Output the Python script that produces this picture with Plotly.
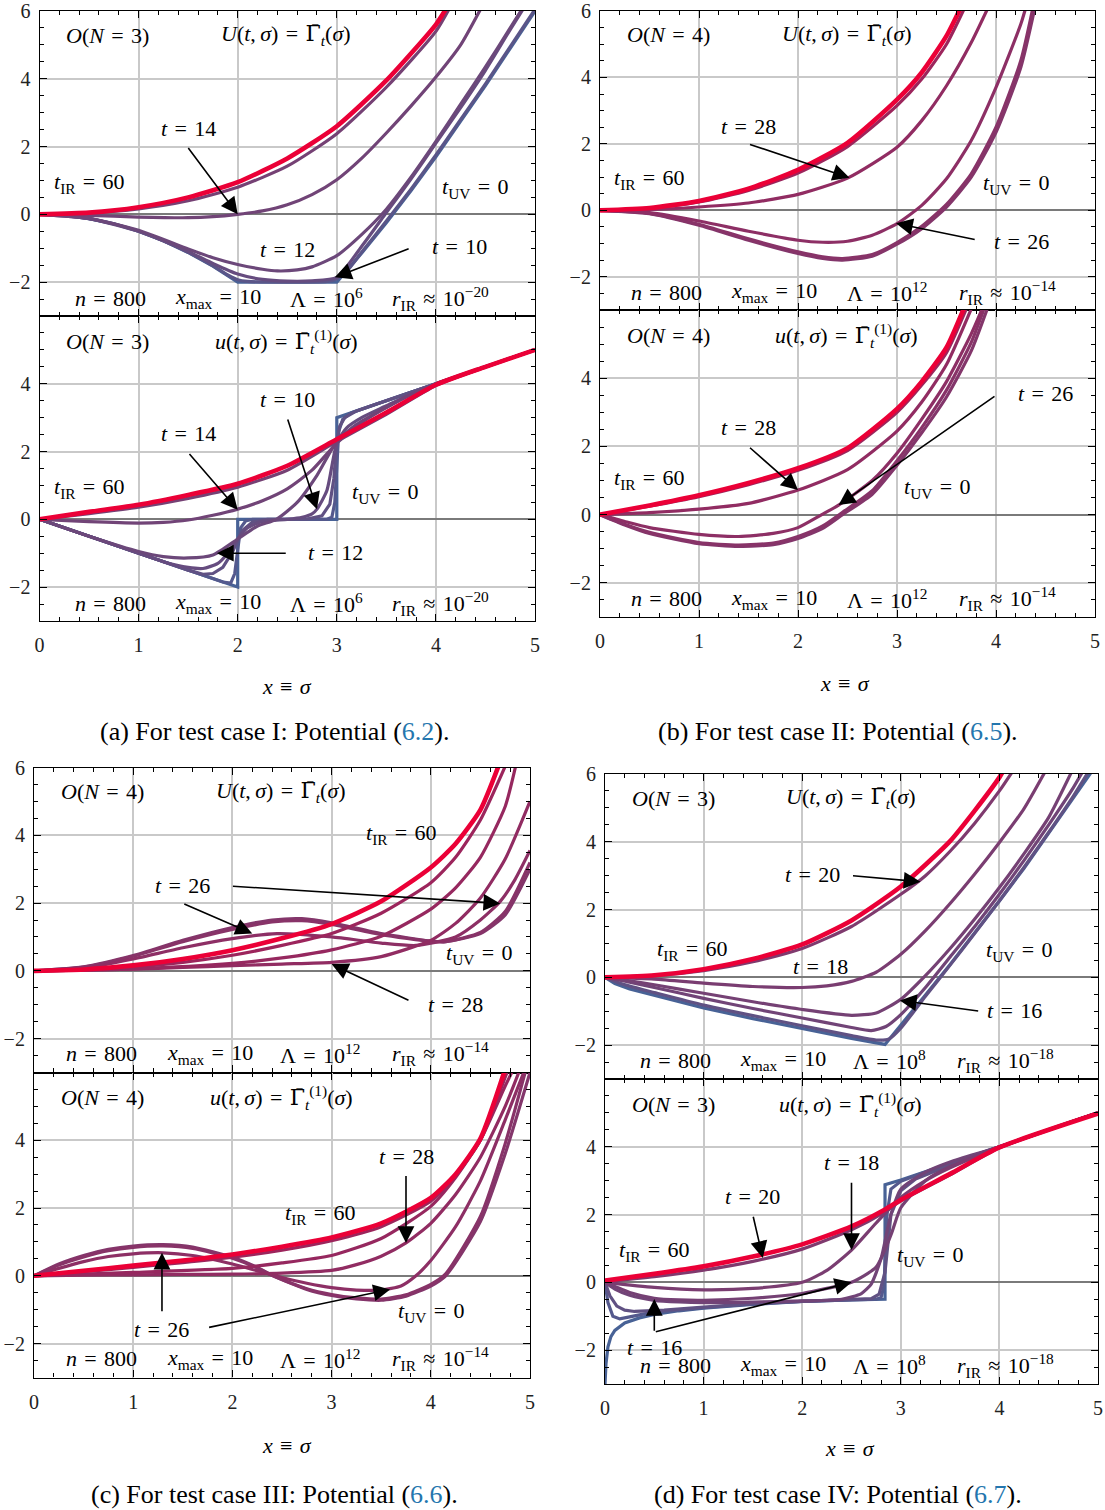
import plotly.graph_objects as go

# ---------------- DATA ----------------
# Panel (a) : test case I, O(N=3)  -- top: U(t,sigma), bottom: u(t,sigma)
A_U_T0_X = [0, 0.25, 0.5, 0.75, 1, 1.25, 1.5, 1.75, 2, 2.5, 3, 3.25, 3.5, 3.75, 4, 4.25, 4.5, 4.75, 5]
A_U_T0_Y = [0, -0.03, -0.125, -0.28, -0.5, -0.78, -1.125, -1.53, -2, -2, -2, -1.15, -0.25, 0.7, 1.7, 2.75, 3.8, 4.9, 6.0]
A_U_T6_X = [0, 0.25, 0.5, 0.75, 1, 1.25, 1.5, 1.75, 1.9, 2.0, 2.1, 2.5, 2.9, 3.0, 3.1, 3.25, 3.5, 3.75, 4, 4.25, 4.5, 4.75, 5]
A_U_T6_Y = [0, -0.03, -0.125, -0.28, -0.5, -0.78, -1.12, -1.52, -1.79, -1.93, -1.98, -2.0, -1.98, -1.9, -1.68, -1.12, -0.2, 0.75, 1.75, 2.8, 3.85, 4.95, 6.05]
A_U_T10_X = [0, 0.5, 1, 1.5, 1.75, 2, 2.25, 2.5, 2.75, 3, 3.25, 3.5, 3.75, 4, 4.25, 4.5, 4.75, 4.9]
A_U_T10_Y = [0, -0.125, -0.5, -1.1, -1.45, -1.76, -1.92, -1.97, -1.96, -1.86, -0.95, 0.05, 1.05, 2.1, 3.15, 4.25, 5.45, 6.15]
A_U_T12_X = [0, 0.5, 1, 1.5, 1.75, 2, 2.25, 2.4, 2.6, 2.75, 3, 3.25, 3.5, 3.75, 4, 4.25, 4.5, 4.75, 4.9]
A_U_T12_Y = [0, -0.12, -0.47, -1.02, -1.28, -1.48, -1.62, -1.67, -1.64, -1.55, -1.22, -0.6, 0.15, 1.1, 2.15, 3.25, 4.35, 5.5, 6.2]
A_U_T14_X = [0, 0.5, 1, 1.5, 1.75, 2, 2.25, 2.5, 2.75, 3, 3.25, 3.5, 3.75, 4, 4.25, 4.45]
A_U_T14_Y = [0, -0.03, -0.08, -0.1, -0.07, 0.0, 0.1, 0.28, 0.58, 1.02, 1.65, 2.4, 3.2, 4.05, 5.0, 6.05]
A_U_T16_X = [0, 0.5, 1, 1.5, 2, 2.5, 3, 3.5, 4, 4.15]
A_U_T16_Y = [0, 0.04, 0.16, 0.4, 0.8, 1.42, 2.38, 3.75, 5.4, 6.15]
A_U_T60_X = [0, 0.5, 1, 1.5, 2, 2.5, 3, 3.5, 4, 4.12]
A_U_T60_Y = [0, 0.05, 0.21, 0.5, 0.95, 1.65, 2.6, 3.95, 5.6, 6.15]

A_u_T0_X = [0, 2, 2, 3, 3, 5]
A_u_T0_Y = [0, -2, 0, 0, 3, 5]
A_u_T4_X = [0, 1, 1.85, 1.93, 1.97, 2.0, 2.03, 2.08, 2.15, 2.9, 2.95, 2.98, 3.0, 3.02, 3.06, 3.15, 3.3, 3.5, 4, 5]
A_u_T4_Y = [0, -1, -1.85, -1.88, -1.6, -0.9, -0.25, -0.05, 0, 0, 0.06, 0.5, 1.6, 2.6, 2.95, 3.15, 3.3, 3.5, 4, 5]
A_u_T8_X = [0, 1, 1.5, 1.65, 1.75, 1.85, 1.95, 2.0, 2.05, 2.15, 2.3, 2.7, 2.85, 2.93, 2.97, 3.0, 3.03, 3.08, 3.2, 3.4, 3.7, 4, 5]
A_u_T8_Y = [0, -1, -1.5, -1.62, -1.6, -1.42, -0.95, -0.62, -0.32, -0.08, 0, 0.01, 0.1, 0.45, 1.2, 2.3, 2.75, 3.0, 3.2, 3.4, 3.7, 4.0, 5]
A_u_T10_X = [0, 0.5, 1, 1.25, 1.5, 1.65, 1.8, 1.9, 2.0, 2.1, 2.25, 2.5, 2.65, 2.75, 2.8, 2.9, 3.0, 3.1, 3.25, 3.5, 3.75, 4, 5]
A_u_T10_Y = [0, -0.5, -1.0, -1.25, -1.42, -1.45, -1.3, -1.0, -0.58, -0.25, -0.06, 0.0, 0.06, 0.16, 0.3, 0.85, 2.25, 2.7, 3.0, 3.35, 3.7, 4.0, 5]
A_u_T12_X = [0, 0.5, 1, 1.25, 1.5, 1.75, 2, 2.2, 2.39, 2.6, 2.8, 3, 3.2, 3.5, 3.75, 4, 5]
A_u_T12_Y = [0, -0.5, -0.95, -1.1, -1.14, -1.05, -0.58, -0.2, 0.0, 0.5, 1.3, 2.3, 2.8, 3.3, 3.68, 3.98, 5]
A_u_T14_X = [0, 0.5, 1, 1.25, 1.5, 1.75, 2, 2.25, 2.5, 2.75, 3, 3.25, 3.5, 3.75, 4, 5]
A_u_T14_Y = [0, -0.07, -0.11, -0.09, -0.02, 0.12, 0.3, 0.55, 0.9, 1.45, 2.25, 2.85, 3.3, 3.68, 3.98, 5]
A_u_T16_X = [0, 0.5, 1, 1.5, 2, 2.5, 3, 3.5, 4, 4.5, 5]
A_u_T16_Y = [0, 0.17, 0.36, 0.62, 0.95, 1.45, 2.3, 3.1, 3.95, 4.5, 5]
A_u_T60_X = [0, 0.5, 1, 1.5, 2, 2.5, 3, 3.5, 4, 4.5, 5]
A_u_T60_Y = [0, 0.22, 0.43, 0.72, 1.05, 1.58, 2.36, 3.15, 3.97, 4.5, 5.0]

# Panel (b) : test case II, O(N=4)   (the early-time bundle is drawn by its visible members)
B_U_T22_X = [0, 0.5, 1, 1.5, 2, 2.25, 2.45, 2.75, 3, 3.25, 3.5, 3.75, 4, 4.25, 4.4]
B_U_T22_Y = [0, -0.1, -0.45, -0.9, -1.3, -1.45, -1.5, -1.38, -1.02, -0.55, 0.1, 1.0, 2.35, 4.3, 6.2]
B_U_T24_X = [0, 0.5, 1, 1.5, 2, 2.25, 2.45, 2.75, 3, 3.25, 3.5, 3.75, 4, 4.25, 4.38]
B_U_T24_Y = [0, -0.09, -0.42, -0.86, -1.25, -1.4, -1.45, -1.33, -0.97, -0.48, 0.18, 1.1, 2.5, 4.5, 6.2]
B_U_T26_X = [0, 0.5, 1, 1.5, 2, 2.25, 2.5, 2.75, 3, 3.25, 3.5, 3.75, 4, 4.25, 4.32]
B_U_T26_Y = [0, -0.07, -0.32, -0.63, -0.9, -0.96, -0.93, -0.75, -0.4, 0.15, 0.95, 2.1, 3.7, 5.6, 6.3]
B_U_T28_X = [0, 0.5, 1, 1.5, 2, 2.5, 3, 3.25, 3.5, 3.75, 3.92]
B_U_T28_Y = [0, 0.02, 0.1, 0.22, 0.48, 0.97, 1.9, 2.7, 3.75, 5.05, 6.1]
B_U_T32_X = [0, 0.5, 1, 1.5, 2, 2.5, 3, 3.25, 3.5, 3.7]
B_U_T32_Y = [0, 0.06, 0.25, 0.6, 1.12, 1.92, 3.15, 3.95, 5.0, 6.2]
B_U_T60_X = [0, 0.5, 1, 1.5, 2, 2.5, 3, 3.25, 3.5, 3.66]
B_U_T60_Y = [0, 0.07, 0.28, 0.65, 1.22, 2.03, 3.33, 4.15, 5.25, 6.2]

B_u_T22_X = [0, 0.25, 0.5, 1, 1.4, 1.75, 2, 2.25, 2.45, 2.75, 3, 3.25, 3.5, 3.75, 3.92]
B_u_T22_Y = [0, -0.3, -0.55, -0.85, -0.93, -0.88, -0.7, -0.4, 0.0, 0.6, 1.45, 2.4, 3.45, 4.8, 6.1]
B_u_T24_X = [0, 0.25, 0.5, 1, 1.4, 1.75, 2, 2.25, 2.45, 2.75, 3, 3.25, 3.5, 3.75, 3.9]
B_u_T24_Y = [0, -0.28, -0.52, -0.82, -0.89, -0.83, -0.64, -0.33, 0.07, 0.7, 1.58, 2.55, 3.65, 5.05, 6.2]
B_u_T26_X = [0, 0.25, 0.5, 1, 1.4, 1.75, 2, 2.24, 2.41, 2.75, 3, 3.25, 3.5, 3.75, 3.87]
B_u_T26_Y = [0, -0.2, -0.38, -0.58, -0.64, -0.55, -0.38, 0.0, 0.28, 1.0, 1.8, 2.8, 3.9, 5.3, 6.1]
B_u_T28_X = [0, 0.5, 1, 1.5, 2, 2.5, 3, 3.25, 3.5, 3.76]
B_u_T28_Y = [0, 0.06, 0.16, 0.33, 0.72, 1.32, 2.45, 3.3, 4.4, 6.1]
B_u_T32_X = [0, 0.5, 1, 1.5, 2, 2.5, 3, 3.25, 3.5, 3.71]
B_u_T32_Y = [0, 0.25, 0.53, 0.88, 1.3, 1.88, 3.0, 3.8, 4.75, 6.1]
B_u_T60_X = [0, 0.5, 1, 1.5, 2, 2.5, 3, 3.25, 3.5, 3.69]
B_u_T60_Y = [0, 0.27, 0.57, 0.93, 1.36, 1.95, 3.1, 3.9, 4.9, 6.15]

# Panel (c) : test case III, O(N=4)
C_U_T22_X = [0, 0.5, 1, 1.5, 2, 2.4, 2.7, 3, 3.5, 4, 4.15, 4.5, 4.75, 5]
C_U_T22_Y = [0, 0.12, 0.45, 0.9, 1.28, 1.5, 1.54, 1.42, 1.1, 0.88, 0.86, 1.1, 1.65, 3.0]
C_U_T24_X = [0, 0.5, 1, 1.5, 2, 2.4, 2.7, 3, 3.5, 4, 4.15, 4.5, 4.75, 5]
C_U_T24_Y = [0, 0.11, 0.43, 0.86, 1.22, 1.44, 1.48, 1.37, 1.07, 0.87, 0.86, 1.13, 1.75, 3.2]
C_U_T26_X = [0, 0.5, 1, 1.5, 2, 2.45, 3, 3.5, 3.85, 4.25, 4.5, 4.7, 4.85, 5]
C_U_T26_Y = [0, 0.08, 0.35, 0.68, 0.95, 1.1, 1.0, 0.82, 0.75, 1.0, 1.5, 2.05, 2.7, 3.55]
C_U_T28_X = [0, 0.5, 1, 1.5, 2, 2.5, 3, 3.5, 4, 4.25, 4.5, 4.75, 5]
C_U_T28_Y = [0, 0.02, 0.05, 0.1, 0.15, 0.2, 0.25, 0.42, 0.9, 1.4, 2.15, 3.3, 5.0]
C_U_T30_X = [0, 1, 2, 2.5, 3, 3.5, 4, 4.25, 4.5, 4.75, 4.86]
C_U_T30_Y = [0, 0.06, 0.22, 0.38, 0.62, 1.02, 1.82, 2.45, 3.35, 4.85, 6.1]
C_U_T32_X = [0, 0.5, 1, 1.5, 2, 2.5, 3, 3.5, 4, 4.25, 4.5, 4.76]
C_U_T32_Y = [0, 0.03, 0.11, 0.25, 0.46, 0.75, 1.1, 1.7, 2.6, 3.35, 4.45, 6.1]
C_U_T60_X = [0, 0.5, 1, 1.5, 2, 2.5, 3, 3.5, 4, 4.25, 4.5, 4.69]
C_U_T60_Y = [0, 0.04, 0.16, 0.35, 0.61, 0.96, 1.38, 2.05, 3.05, 3.75, 4.75, 6.1]

C_u_T22_X = [0, 0.25, 0.5, 0.75, 1, 1.3, 1.6, 2, 2.25, 2.41, 2.75, 3, 3.25, 3.5, 3.75, 4, 4.15, 4.5, 4.75, 5]
C_u_T22_Y = [0, 0.35, 0.6, 0.78, 0.88, 0.92, 0.85, 0.55, 0.25, 0.0, -0.4, -0.58, -0.68, -0.72, -0.6, -0.3, 0.0, 1.6, 3.6, 6.0]
C_u_T24_X = [0, 0.25, 0.5, 0.75, 1, 1.3, 1.6, 2, 2.25, 2.41, 2.75, 3, 3.25, 3.5, 3.75, 4, 4.15, 4.5, 4.75, 4.97]
C_u_T24_Y = [0, 0.32, 0.56, 0.74, 0.84, 0.88, 0.81, 0.52, 0.23, 0.0, -0.38, -0.55, -0.65, -0.69, -0.56, -0.25, 0.06, 1.75, 3.9, 6.2]
C_u_T26_X = [0, 0.25, 0.5, 0.75, 1, 1.3, 1.6, 2, 2.25, 2.5, 2.75, 3, 3.25, 3.5, 3.7, 3.85, 4, 4.25, 4.5, 4.75, 4.95]
C_u_T26_Y = [0, 0.22, 0.42, 0.57, 0.65, 0.68, 0.6, 0.35, 0.15, -0.05, -0.22, -0.35, -0.42, -0.42, -0.3, 0.0, 0.45, 1.45, 2.8, 4.6, 6.1]
C_u_T28_X = [0, 0.5, 1, 1.5, 2, 2.5, 3, 3.25, 3.5, 3.75, 4, 4.25, 4.5, 4.75, 4.9]
C_u_T28_Y = [0, 0.02, 0.03, 0.04, 0.05, 0.08, 0.16, 0.33, 0.58, 0.97, 1.55, 2.4, 3.5, 5.0, 6.1]
C_u_T30_X = [0, 1, 2, 2.5, 3, 3.5, 4, 4.25, 4.5, 4.75, 4.85]
C_u_T30_Y = [0, 0.1, 0.22, 0.38, 0.6, 1.1, 2.05, 2.9, 4.0, 5.6, 6.2]
C_u_T32_X = [0, 0.5, 1, 1.5, 2, 2.5, 3, 3.5, 4, 4.25, 4.5, 4.78]
C_u_T32_Y = [0, 0.12, 0.25, 0.39, 0.55, 0.76, 1.04, 1.45, 2.2, 2.95, 4.0, 6.1]
C_u_T60_X = [0, 0.5, 1, 1.5, 2, 2.5, 3, 3.5, 4, 4.25, 4.5, 4.75]
C_u_T60_Y = [0, 0.15, 0.3, 0.45, 0.63, 0.86, 1.13, 1.55, 2.3, 3.0, 4.05, 6.1]

# Panel (d) : test case IV, O(N=3)
D_U_T0_X = [0, 0.05, 0.1, 0.25, 0.5, 1, 1.5, 2, 2.5, 2.84, 3, 3.25, 3.5, 3.75, 4, 4.25, 4.5, 4.75, 4.92, 5]
D_U_T0_Y = [0, -0.1, -0.18, -0.34, -0.53, -0.9, -1.22, -1.52, -1.8, -1.98, -1.42, -0.52, 0.38, 1.3, 2.25, 3.22, 4.25, 5.3, 6.0, 6.4]
D_U_T8_X = [0, 0.1, 0.25, 0.5, 1, 1.5, 2, 2.5, 2.75, 2.88, 3, 3.25, 3.5, 3.75, 4, 4.25, 4.5, 4.75, 4.91]
D_U_T8_Y = [0, -0.12, -0.26, -0.45, -0.82, -1.13, -1.43, -1.72, -1.85, -1.82, -1.5, -0.56, 0.36, 1.3, 2.26, 3.25, 4.28, 5.35, 6.1]
D_U_T14_X = [0, 0.25, 0.5, 1, 1.5, 2, 2.5, 2.7, 2.85, 3, 3.25, 3.5, 3.75, 4, 4.25, 4.5, 4.75, 4.85]
D_U_T14_Y = [0, -0.14, -0.3, -0.62, -0.92, -1.2, -1.48, -1.57, -1.45, -1.1, -0.3, 0.6, 1.5, 2.45, 3.45, 4.5, 5.6, 6.1]
D_U_T16_X = [0, 0.25, 0.5, 1, 1.5, 2, 2.5, 2.75, 3, 3.25, 3.5, 3.75, 4, 4.25, 4.5, 4.73]
D_U_T16_Y = [0, -0.1, -0.22, -0.47, -0.72, -0.95, -1.12, -1.05, -0.65, 0.05, 0.85, 1.72, 2.65, 3.65, 4.72, 6.05]
D_U_T18_X = [0, 0.5, 1, 1.5, 2, 2.25, 2.5, 2.75, 3, 3.25, 3.5, 3.75, 4, 4.25, 4.46]
D_U_T18_Y = [0, -0.05, -0.17, -0.27, -0.3, -0.25, -0.12, 0.15, 0.68, 1.38, 2.18, 3.05, 3.98, 4.98, 6.05]
D_U_T20_X = [0, 0.5, 1, 1.5, 2, 2.5, 3, 3.25, 3.5, 3.75, 4, 4.15]
D_U_T20_Y = [0, 0.05, 0.2, 0.46, 0.85, 1.5, 2.45, 3.0, 3.72, 4.55, 5.5, 6.15]
D_U_T60_X = [0, 0.5, 1, 1.5, 2, 2.5, 3, 3.5, 3.75, 4, 4.05]
D_U_T60_Y = [0, 0.06, 0.24, 0.54, 0.97, 1.68, 2.68, 4.02, 4.92, 5.9, 6.15]

D_u_T0_X = [0, 0.01, 0.03, 0.06, 0.1, 0.2, 0.35, 0.5, 0.75, 1, 1.5, 2, 2.5, 2.84, 2.84, 3, 4, 5]
D_u_T0_Y = [-3.0, -2.4, -1.9, -1.6, -1.42, -1.2, -1.05, -0.95, -0.84, -0.76, -0.65, -0.56, -0.52, -0.5, 2.88, 3.02, 4.0, 5.0]
D_u_T4_X = [0, 0.03, 0.08, 0.15, 0.25, 0.4, 0.6, 1, 1.5, 2, 2.5, 2.75, 2.8, 2.83, 2.86, 2.9, 3.0, 3.2, 3.5, 4, 5]
D_u_T4_Y = [0, -0.6, -1.0, -1.08, -1.02, -0.93, -0.86, -0.75, -0.64, -0.56, -0.52, -0.5, -0.45, -0.1, 2.0, 2.75, 2.98, 3.2, 3.5, 4.0, 5]
D_u_T8_X = [0, 0.05, 0.12, 0.2, 0.3, 0.45, 0.6, 1, 1.5, 2, 2.5, 2.7, 2.78, 2.84, 2.9, 3.0, 3.15, 3.4, 3.7, 4, 5]
D_u_T8_Y = [0, -0.4, -0.7, -0.82, -0.86, -0.85, -0.82, -0.73, -0.63, -0.56, -0.51, -0.48, -0.35, 0.3, 2.0, 2.7, 3.05, 3.35, 3.7, 4.0, 5]
D_u_T14_X = [0, 0.1, 0.25, 0.5, 0.75, 1, 1.5, 2, 2.4, 2.6, 2.7, 2.8, 2.9, 3.0, 3.25, 3.5, 4, 5]
D_u_T14_Y = [0, -0.2, -0.38, -0.53, -0.58, -0.6, -0.58, -0.55, -0.5, -0.33, -0.05, 0.7, 2.0, 2.75, 3.25, 3.55, 4.0, 5]
D_u_T16_X = [0, 0.1, 0.25, 0.5, 0.75, 1, 1.5, 2, 2.25, 2.5, 2.75, 2.9, 3.0, 3.25, 3.5, 4, 5]
D_u_T16_Y = [0, -0.12, -0.3, -0.47, -0.52, -0.53, -0.47, -0.33, -0.18, 0.0, 0.45, 1.4, 2.2, 3.0, 3.42, 3.98, 5]
D_u_T18_X = [0, 0.5, 1, 1.5, 2, 2.25, 2.5, 2.75, 3, 3.25, 3.5, 4, 5]
D_u_T18_Y = [0, -0.15, -0.22, -0.18, 0.0, 0.35, 0.95, 1.75, 2.5, 3.0, 3.38, 3.98, 5]
D_u_T20_X = [0, 0.5, 1, 1.5, 2, 2.5, 2.84, 3, 3.5, 4, 5]
D_u_T20_Y = [0.02, 0.17, 0.36, 0.62, 0.98, 1.55, 2.08, 2.4, 3.17, 3.97, 5.0]
D_u_T60_X = [0, 0.5, 1, 1.5, 2, 2.5, 2.84, 3, 3.5, 4, 5]
D_u_T60_Y = [0.05, 0.25, 0.47, 0.76, 1.12, 1.65, 2.15, 2.43, 3.2, 3.98, 4.98]

# Text content
X_TICKS = [0, 1, 2, 3, 4, 5]
N_LABELS = {"a": "3", "b": "4", "c": "4", "d": "3"}
LAMBDA_EXP = {"a": "6", "b": "12", "c": "12", "d": "8"}
RIR_EXP = {"a": "−20", "b": "−14", "c": "−14", "d": "−18"}
CAPTIONS = {
    "a": ("(a) For test case I: Potential (", "6.2", ")."),
    "b": ("(b) For test case II: Potential (", "6.5", ")."),
    "c": ("(c) For test case III: Potential (", "6.6", ")."),
    "d": ("(d) For test case IV: Potential (", "6.7", ")."),
}

# ---------------- STYLE / LAYOUT ----------------
W, H = 1105, 1510
FONT = "Liberation Serif"
SP = "\u2004"  # three-per-em space around relations (TeX-like spacing)
LINK = "#2476ae"
TXT = dict(family=FONT, size=22, color="#000")

def tcol(t):
    stops = [(0, (72, 98, 150)), (12, (108, 72, 122)), (30, (150, 40, 95)), (60, (235, 0, 55))]
    for (t0, c0), (t1, c1) in zip(stops[:-1], stops[1:]):
        if t <= t1:
            f = (t - t0) / (t1 - t0)
            return "rgb(%d,%d,%d)" % tuple(round(a + f * (b - a)) for a, b in zip(c0, c1))
    return "rgb(%d,%d,%d)" % stops[-1][1]

# panel geometry in pixels: x0, x1, (top subplot y0, y1), (bottom subplot y0, y1)
GEOM = {
    "a": (39.5, 535, (11, 316), (316, 621)),
    "b": (600, 1095, (11, 310), (310, 617)),
    "c": (34, 530, (767.5, 1072.5), (1072.5, 1377.5)),
    "d": (605, 1098, (774, 1079), (1079, 1384)),
}

CURVES = {
    ("a", "U"): [(0, A_U_T0_X, A_U_T0_Y, "linear"), (6, A_U_T6_X, A_U_T6_Y, "spline"),
                 (10, A_U_T10_X, A_U_T10_Y, "spline"), (12, A_U_T12_X, A_U_T12_Y, "spline"),
                 (14, A_U_T14_X, A_U_T14_Y, "spline"), (16, A_U_T16_X, A_U_T16_Y, "spline"),
                 (60, A_U_T60_X, A_U_T60_Y, "spline")],
    ("a", "u"): [(0, A_u_T0_X, A_u_T0_Y, "linear"), (4, A_u_T4_X, A_u_T4_Y, "linear"),
                 (8, A_u_T8_X, A_u_T8_Y, "linear"), (10, A_u_T10_X, A_u_T10_Y, "spline"),
                 (12, A_u_T12_X, A_u_T12_Y, "spline"), (14, A_u_T14_X, A_u_T14_Y, "spline"),
                 (16, A_u_T16_X, A_u_T16_Y, "spline"), (60, A_u_T60_X, A_u_T60_Y, "spline")],
    ("b", "U"): [(22, B_U_T22_X, B_U_T22_Y, "spline"), (24, B_U_T24_X, B_U_T24_Y, "spline"),
                 (26, B_U_T26_X, B_U_T26_Y, "spline"), (28, B_U_T28_X, B_U_T28_Y, "spline"),
                 (32, B_U_T32_X, B_U_T32_Y, "spline"), (60, B_U_T60_X, B_U_T60_Y, "spline")],
    ("b", "u"): [(22, B_u_T22_X, B_u_T22_Y, "spline"), (24, B_u_T24_X, B_u_T24_Y, "spline"),
                 (26, B_u_T26_X, B_u_T26_Y, "spline"), (28, B_u_T28_X, B_u_T28_Y, "spline"),
                 (32, B_u_T32_X, B_u_T32_Y, "spline"), (60, B_u_T60_X, B_u_T60_Y, "spline")],
    ("c", "U"): [(22, C_U_T22_X, C_U_T22_Y, "spline"), (24, C_U_T24_X, C_U_T24_Y, "spline"),
                 (26, C_U_T26_X, C_U_T26_Y, "spline"), (28, C_U_T28_X, C_U_T28_Y, "spline"),
                 (30, C_U_T30_X, C_U_T30_Y, "spline"), (32, C_U_T32_X, C_U_T32_Y, "spline"),
                 (60, C_U_T60_X, C_U_T60_Y, "spline")],
    ("c", "u"): [(22, C_u_T22_X, C_u_T22_Y, "spline"), (24, C_u_T24_X, C_u_T24_Y, "spline"),
                 (26, C_u_T26_X, C_u_T26_Y, "spline"), (28, C_u_T28_X, C_u_T28_Y, "spline"),
                 (30, C_u_T30_X, C_u_T30_Y, "spline"), (32, C_u_T32_X, C_u_T32_Y, "spline"),
                 (60, C_u_T60_X, C_u_T60_Y, "spline")],
    ("d", "U"): [(0, D_U_T0_X, D_U_T0_Y, "linear"), (8, D_U_T8_X, D_U_T8_Y, "spline"),
                 (14, D_U_T14_X, D_U_T14_Y, "spline"), (16, D_U_T16_X, D_U_T16_Y, "spline"),
                 (18, D_U_T18_X, D_U_T18_Y, "spline"), (20, D_U_T20_X, D_U_T20_Y, "spline"),
                 (60, D_U_T60_X, D_U_T60_Y, "spline")],
    ("d", "u"): [(0, D_u_T0_X, D_u_T0_Y, "linear"), (4, D_u_T4_X, D_u_T4_Y, "linear"),
                 (8, D_u_T8_X, D_u_T8_Y, "linear"), (14, D_u_T14_X, D_u_T14_Y, "spline"),
                 (16, D_u_T16_X, D_u_T16_Y, "spline"), (18, D_u_T18_X, D_u_T18_Y, "spline"),
                 (20, D_u_T20_X, D_u_T20_Y, "spline"), (60, D_u_T60_X, D_u_T60_Y, "spline")],
}

def eq(a, b, rel="="):
    return a + SP + rel + SP + b

T = lambda v: eq("<i>t</i>", v)
TIR = eq("<i>t</i><sub>IR</sub>", "60")
TUV = eq("<i>t</i><sub>UV</sub>", "0")
GBAR = "<span style=\"font-family:'DejaVu Serif'\">\u0393\u0304</span>"
U_TITLE = eq("<i>U</i>(<i>t</i>,\u2009<i>σ</i>)", GBAR + "<sub><i>t</i></sub>(<i>σ</i>)")
u_TITLE = eq("<i>u</i>(<i>t</i>,\u2009<i>σ</i>)", GBAR + "<sub><i>t</i></sub><sup>(1)</sup>(<i>σ</i>)")

# labels: (text, x, y) ; arrows: (tail_x, tail_y, tip_x, tip_y)
LABELS = {
    ("a", "U"): [(T("14"), 1.5, 2.54), (TIR, 0.5, 0.92), (TUV, 4.39, 0.77), (T("12"), 2.5, -1.05), (T("10"), 4.24, -0.95)],
    ("a", "u"): [(T("10"), 2.5, 3.53), (T("14"), 1.5, 2.52), (TIR, 0.5, 0.92), (TUV, 3.49, 0.77), (T("12"), 2.99, -0.99)],
    ("b", "U"): [(T("28"), 1.5, 2.53), (TIR, 0.5, 0.93), (TUV, 4.2, 0.79), (T("26"), 4.26, -0.95)],
    ("b", "u"): [(T("28"), 1.5, 2.54), (TIR, 0.5, 1.04), (TUV, 3.4, 0.79), (T("26"), 4.5, 3.54)],
    ("c", "U"): [(TIR, 3.7, 4.04), (T("26"), 1.5, 2.53), (TUV, 4.49, 0.51), (T("28"), 4.25, -0.98)],
    ("c", "u"): [(T("28"), 3.75, 3.53), (TIR, 2.89, 1.81), (T("26"), 1.29, -1.58), (TUV, 4.0, -1.06)],
    ("d", "U"): [(T("20"), 2.1, 3.03), (TIR, 0.89, 0.82), (T("18"), 2.19, 0.31), (TUV, 4.2, 0.77), (T("16"), 4.15, -0.98)],
    ("d", "u"): [(T("18"), 2.5, 3.53), (T("20"), 1.5, 2.52), (TIR, 0.5, 0.92), (TUV, 3.3, 0.78), (T("16"), 0.5, -1.93)],
}
ARROWS = {
    ("a", "U"): [(1.49, 2.0, 2.0, 0.0), (3.74, -1.0, 2.98, -1.86)],
    ("a", "u"): [(2.5, 2.99, 2.8, 0.3), (1.5, 1.97, 2.0, 0.28), (2.5, -1.0, 1.79, -1.0)],
    ("b", "U"): [(1.5, 2.0, 2.52, 0.98), (3.8, -0.89, 2.99, -0.39)],
    ("b", "u"): [(1.5, 2.0, 2.0, 0.72), (4.0, 3.5, 2.41, 0.28)],
    ("c", "U"): [(1.99, 2.5, 4.7, 1.99), (1.5, 1.99, 2.2, 1.1), (3.79, -0.89, 3.0, 0.2)],
    ("c", "u"): [(3.75, 2.99, 3.75, 0.97), (1.29, -1.09, 1.29, 0.68), (1.75, -1.53, 3.59, -0.4)],
    ("d", "U"): [(2.5, 3.0, 3.2, 2.82), (3.8, -1.0, 2.99, -0.68)],
    ("d", "u"): [(2.5, 2.98, 2.5, 0.95), (1.5, 1.98, 1.6, 0.72), (0.5, -1.47, 0.5, -0.49), (0.5, -1.47, 2.5, 0.0)],
}
INFO_POS = {"a": (-2.48, [0.72, 1.8, 2.9, 4.05]), "b": (-2.46, [0.67, 1.76, 2.9, 4.12]),
            "c": (-2.45, [0.68, 1.77, 2.88, 4.1]), "d": (-2.45, [0.72, 1.81, 2.89, 4.06])}
XTITLE_POS = {"a": (287, 686), "b": (845, 684), "c": (287, 1445), "d": (850, 1448)}
CAPTION_POS = {"a": (274, 731), "b": (838, 731), "c": (274, 1494), "d": (838, 1494)}

fig = go.Figure()
layout = dict(width=W, height=H, margin=dict(l=0, r=0, t=0, b=0, autoexpand=False),
              paper_bgcolor="white", plot_bgcolor="white", showlegend=False,
              font=dict(family=FONT, size=20, color="#111"))
annotations = []

idx = 0
for p in ["a", "b", "c", "d"]:
    x0, x1, ytop, ybot = GEOM[p]
    for kind, (y0, y1) in (("U", ytop), ("u", ybot)):
        idx += 1
        xs = "x" if idx == 1 else "x%d" % idx
        ys = "y" if idx == 1 else "y%d" % idx
        xa = "xaxis" if idx == 1 else "xaxis%d" % idx
        ya = "yaxis" if idx == 1 else "yaxis%d" % idx
        common = dict(showline=True, linecolor="black", linewidth=1.2, mirror="ticks",
                      ticks="inside", ticklen=7, tickwidth=1, tickcolor="black",
                      showgrid=True, gridcolor="#c9c9c9", gridwidth=1.6, automargin=False,
                      ticklabeloverflow="allow",
                      tickfont=dict(family=FONT, size=20, color="#222"), fixedrange=True)
        layout[xa] = dict(common, domain=[x0 / W, x1 / W], anchor=ys, range=[0, 5],
                          tickmode="array", tickvals=X_TICKS, zeroline=False,
                          showticklabels=(kind == "u"), ticklabelstandoff=6,
                          minor=dict(ticks="inside", ticklen=4, tickwidth=1, tickcolor="black",
                                     tickmode="linear", tick0=0, dtick=0.2, showgrid=False))
        layout[ya] = dict(common, domain=[1 - y1 / H, 1 - y0 / H], anchor=xs,
                          range=[-3, 6] if kind == "U" else [-3, 5.999],
                          tickmode="linear", tick0=0, dtick=2, zeroline=True,
                          zerolinecolor="#7a7a7a", zerolinewidth=1.5, ticklabelstandoff=4,
                          minor=dict(ticks="inside", ticklen=4, tickwidth=1, tickcolor="black",
                                     tickmode="linear", tick0=0, dtick=0.5, showgrid=False))
        for t, X, Y, shape in CURVES[(p, kind)]:
            line = dict(color=tcol(t), width=4.6 if t == 60 else 3.2, shape=shape)
            if shape == "spline":
                line["smoothing"] = 0.6
            fig.add_trace(go.Scatter(x=X, y=Y, mode="lines", line=line, xaxis=xs, yaxis=ys,
                                     hoverinfo="skip", showlegend=False))
        # header texts
        header = U_TITLE if kind == "U" else u_TITLE
        hy = 5.28 if kind == "U" else 5.25
        annotations.append(dict(x=0.69, y=hy, xref=xs, yref=ys, showarrow=False,
                                xanchor="center", yanchor="middle",
                                text=eq("<i>O</i>(<i>N</i>", N_LABELS[p] + ")"), font=TXT))
        annotations.append(dict(x=2.49, y=hy, xref=xs, yref=ys, showarrow=False,
                                xanchor="center", yanchor="middle", text=header, font=TXT))
        # info line
        iy, ixs = INFO_POS[p]
        infos = [eq("<i>n</i>", "800"), eq("<i>x</i><sub>max</sub>", "10"),
                 eq("Λ", "10<sup>%s</sup>" % LAMBDA_EXP[p]),
                 eq("<i>r</i><sub>IR</sub>", "10<sup>%s</sup>" % RIR_EXP[p], "≈")]
        for txt, ix in zip(infos, ixs):
            annotations.append(dict(x=ix, y=iy, xref=xs, yref=ys, showarrow=False,
                                    xanchor="center", yanchor="middle", text=txt, font=TXT))
        for txt, lx, ly in LABELS[(p, kind)]:
            annotations.append(dict(x=lx, y=ly, xref=xs, yref=ys, showarrow=False,
                                    xanchor="center", yanchor="middle", text=txt, font=TXT))
        for axx, ayy, tx, ty in ARROWS[(p, kind)]:
            annotations.append(dict(x=tx, y=ty, ax=axx, ay=ayy, xref=xs, yref=ys,
                                    axref=xs, ayref=ys, showarrow=True, text="",
                                    arrowhead=2, arrowsize=2.1, arrowwidth=1.6,
                                    arrowcolor="black", standoff=0, startstandoff=0))
    # x title and caption
    tx_, ty_ = XTITLE_POS[p]
    annotations.append(dict(x=tx_ / W, y=1 - ty_ / H, xref="paper", yref="paper", showarrow=False,
                            xanchor="center", yanchor="middle",
                            text="<i>x</i>" + SP + "≡" + SP + "<i>σ</i>", font=TXT))
    cx, cy = CAPTION_POS[p]
    pre, num, post = CAPTIONS[p]
    annotations.append(dict(x=cx / W, y=1 - cy / H, xref="paper", yref="paper", showarrow=False,
                            xanchor="center", yanchor="middle",
                            text=pre + "<span style='color:%s'>%s</span>" % (LINK, num) + post,
                            font=dict(family=FONT, size=26, color="#000")))

layout["annotations"] = annotations
fig.update_layout(**layout)
fig.write_html("out.html")
